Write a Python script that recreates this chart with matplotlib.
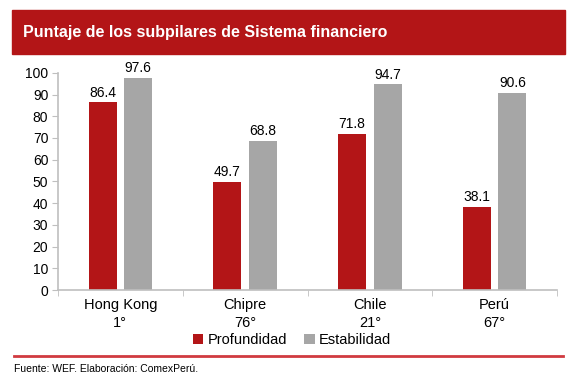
import matplotlib
matplotlib.use("Agg")
import matplotlib.pyplot as plt
from matplotlib.patches import Rectangle
from matplotlib.lines import Line2D
import numpy as np

plt.rcParams['font.family'] = ['Liberation Sans', 'DejaVu Sans']

paises = ["Hong Kong\n1°", "Chipre\n76°", "Chile\n21°", "Perú\n67°"]
profundidad = [86.4, 49.7, 71.8, 38.1]
estabilidad = [97.6, 68.8, 94.7, 90.6]

ROJO = "#B31517"
GRIS = "#A6A6A6"
EJE = "#BFBFBF"

W, H = 576, 382
fig = plt.figure(figsize=(W / 100, H / 100), dpi=100)

# banda del titulo
fig.patches.append(Rectangle((12 / W, 1 - 54 / H), (565 - 12) / W, 44 / H,
                             transform=fig.transFigure, color=ROJO, zorder=0))
fig.text(23 / W, 1 - 33 / H, "Puntaje de los subpilares de Sistema financiero",
         color="white", fontsize=11.5, fontweight="bold", va="center", ha="left")

ax = fig.add_axes([58 / W, 1 - 290 / H, (557 - 58) / W, (290 - 72.8) / H])
x = np.arange(len(paises))
bw = 0.225
off = 0.143
b1 = ax.bar(x - off, profundidad, bw, color=ROJO, label="Profundidad")
b2 = ax.bar(x + off, estabilidad, bw, color=GRIS, label="Estabilidad")
for bars in (b1, b2):
    ax.bar_label(bars, labels=[f"{v:.1f}" for v in bars.datavalues],
                 padding=2, fontsize=10, color="black")

ax.set_xlim(-0.5, len(paises) - 0.5)
ax.set_ylim(0, 100)
ax.set_yticks(range(0, 101, 10))
ax.set_xticks(x)
ax.set_xticklabels(paises, fontsize=10.5, linespacing=1.35)
ax.set_xticks(np.arange(-0.5, len(paises)), minor=True)
ax.tick_params(axis="x", which="major", length=0, pad=6)
ax.tick_params(axis="x", which="minor", length=4, color=EJE, direction="out")
ax.tick_params(axis="y", length=4, color=EJE, labelsize=10, pad=3)
for s in ("top", "right"):
    ax.spines[s].set_visible(False)
for s in ("left", "bottom"):
    ax.spines[s].set_color(EJE)
    ax.spines[s].set_linewidth(1.2)

fig.legend(handles=[b1, b2], loc="center", bbox_to_anchor=(292 / W, 1 - 340 / H),
           ncol=2, frameon=False, fontsize=10.5, handlelength=0.7, handleheight=0.7,
           handletextpad=0.3, columnspacing=1.2)

# linea roja y fuente
fig.add_artist(Line2D([14 / W, 563 / W], [1 - 356 / H, 1 - 356 / H],
                      transform=fig.transFigure, color="#D03A40", lw=2))
fig.text(14 / W, 1 - 369 / H, "Fuente: WEF. Elaboración: ComexPerú.",
         fontsize=7.5, va="center", ha="left")

fig.savefig("out.png", dpi=100)
